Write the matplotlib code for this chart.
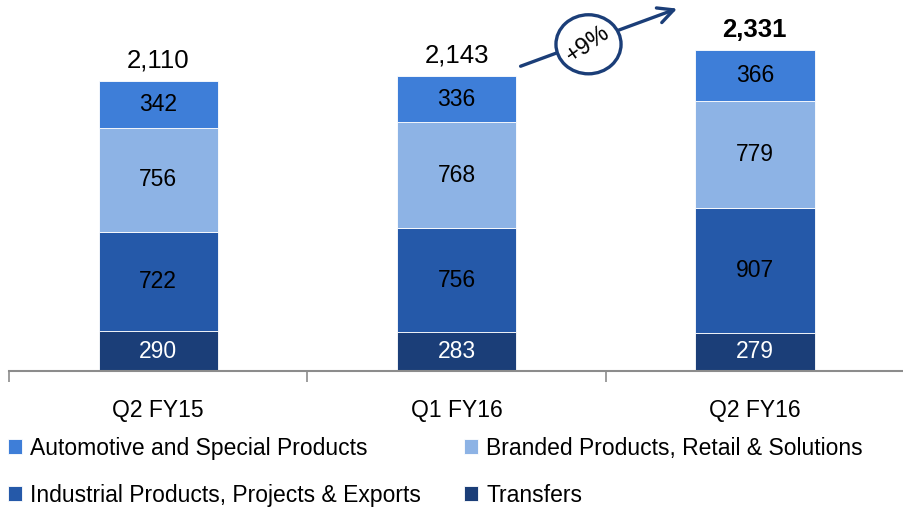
import matplotlib
matplotlib.use("Agg")
from matplotlib import pyplot as plt
from matplotlib.patches import Ellipse
import numpy as np

plt.rcParams['font.family'] = ['Liberation Sans', 'DejaVu Sans']

quarters = ["Q2 FY15", "Q1 FY16", "Q2 FY16"]
transfers = [290, 283, 279]
industrial = [722, 756, 907]
branded = [756, 768, 779]
automotive = [342, 336, 366]
totals = [2110, 2143, 2331]
growth_label = "+9%"

series = [
    ("Transfers", transfers, "#1B3E78", "white"),
    ("Industrial Products, Projects & Exports", industrial, "#2559A9", "black"),
    ("Branded Products, Retail & Solutions", branded, "#8DB3E5", "black"),
    ("Automotive and Special Products", automotive, "#3E7ED8", "black"),
]

fig = plt.figure(figsize=(9.04, 5.09), dpi=100)
ax = fig.add_axes([0.01, 0.271, 0.99, 0.729])

x = np.arange(len(quarters))
bottom = np.zeros(len(quarters))
handles = {}
for name, vals, col, tcol in series:
    vals = np.array(vals)
    b = ax.bar(x, vals, 0.4, bottom=bottom, color=col, edgecolor="white", linewidth=0.6, label=name)
    handles[name] = b
    for xi, v, bt in zip(x, vals, bottom):
        ax.text(xi, bt + v / 2, str(v), ha="center", va="center", fontsize=16.5, color=tcol)
    bottom = bottom + vals

for i, t in enumerate(totals):
    ax.annotate(f"{t:,}", (x[i], bottom[i]), xytext=(0, 6), textcoords="offset points",
                ha="center", va="bottom", fontsize=18.5,
                fontweight="bold" if i == len(totals) - 1 else "normal")

ax.set_xlim(-0.5, 2.5)
ax.set_ylim(0, 2695)
for s in ["top", "right", "left"]:
    ax.spines[s].set_visible(False)
ax.spines["bottom"].set_color("#8C8C8C")
ax.spines["bottom"].set_linewidth(1.5)
ax.set_yticks([])
ax.set_xticks([-0.5, 0.5, 1.5, 2.5])
ax.set_xticklabels([])
ax.tick_params(axis="x", length=8, width=1.2, color="#8C8C8C")
ax.set_xticks(x, minor=True)
ax.set_xticklabels(quarters, minor=True, fontsize=16.5)
ax.tick_params(axis="x", which="minor", length=0, pad=20)

# growth arrow
ax.annotate("", xy=(0.752, 0.985), xytext=(0.573, 0.868), xycoords="figure fraction",
            textcoords="figure fraction",
            arrowprops=dict(arrowstyle="->", color="#1B3E78", lw=2.4, mutation_scale=28))
ell = Ellipse((0.651, 0.913), 0.072, 0.116, transform=fig.transFigure,
              facecolor="white", edgecolor="#1B3E78", linewidth=2.4, zorder=5)
fig.patches.append(ell)
fig.text(0.651, 0.913, growth_label, ha="center", va="center", rotation=35,
         fontsize=17, zorder=6)

order = ["Automotive and Special Products", "Industrial Products, Projects & Exports",
         "Branded Products, Retail & Solutions", "Transfers"]
fig.legend([handles[n] for n in order], order, ncol=2, loc="upper left",
           bbox_to_anchor=(-0.001, 0.16), frameon=False, fontsize=16.5,
           handlelength=0.6, handleheight=0.6, handletextpad=0.35,
           columnspacing=1.9, labelspacing=1.05, borderaxespad=0)

fig.savefig("out.png", dpi=100)
